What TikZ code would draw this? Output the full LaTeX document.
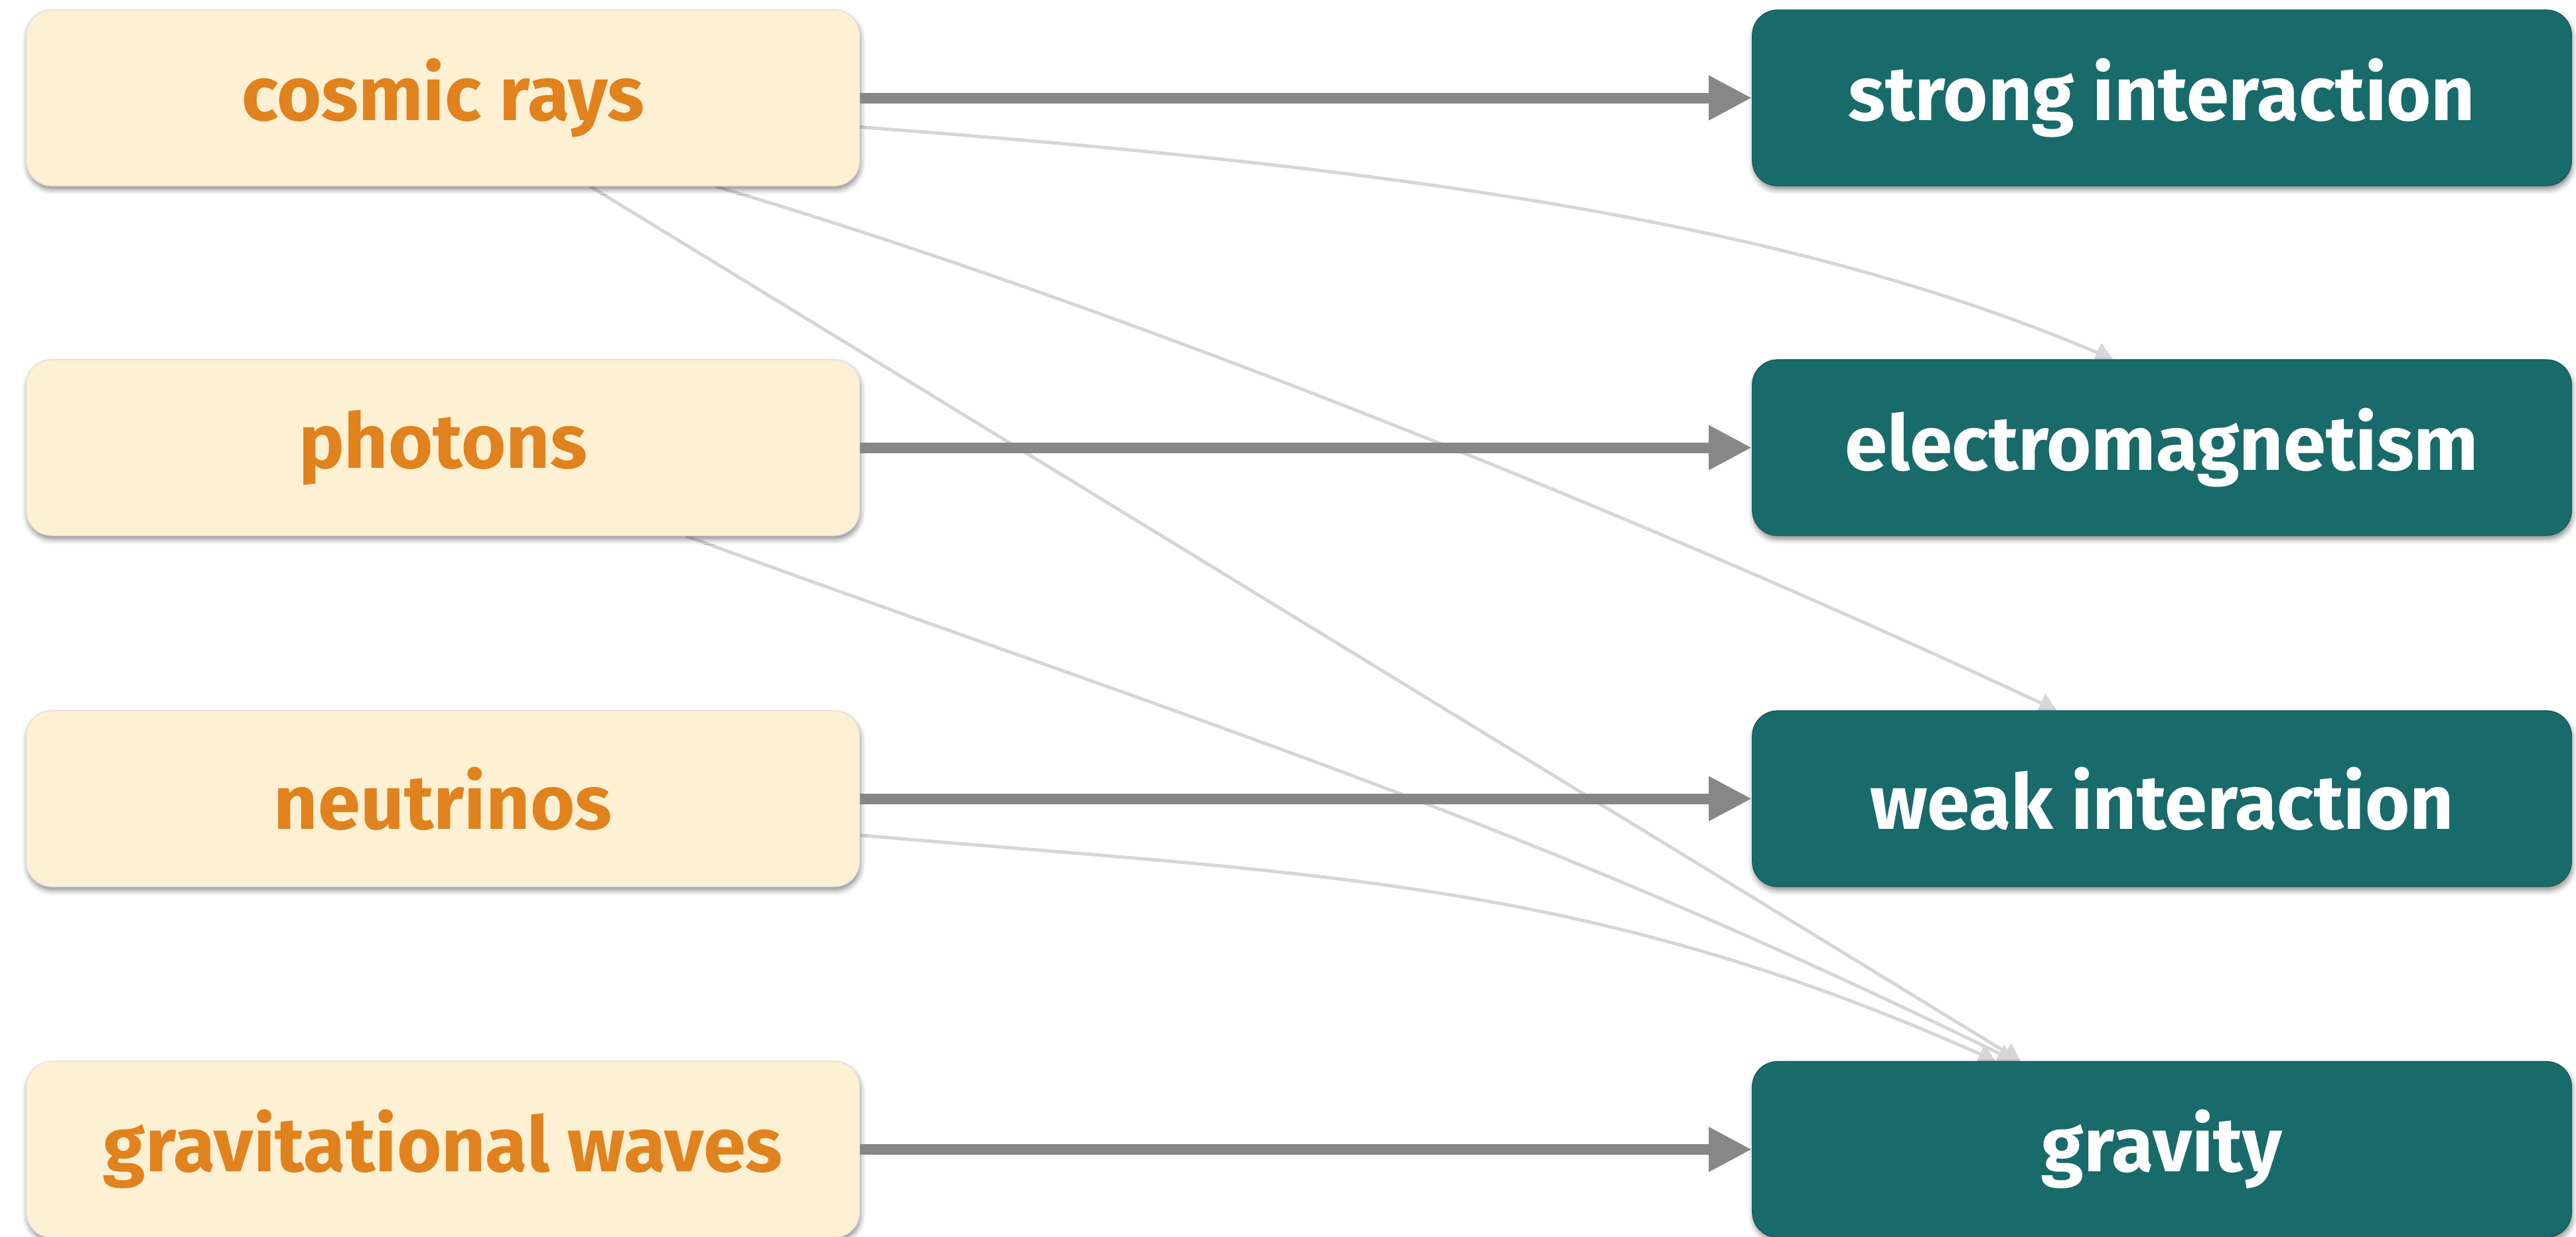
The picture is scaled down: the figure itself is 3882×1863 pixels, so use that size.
\documentclass[tikz,border=0pt]{standalone}
\usepackage{fontspec}
\setmainfont{Fira Sans}
\usetikzlibrary{arrows.meta,shadows.blur,backgrounds}
\definecolor{creamfill}{HTML}{FEF0D3}
\definecolor{orangetxt}{HTML}{E0821E}
\definecolor{tealfill}{HTML}{196A6A}
\definecolor{thickgray}{HTML}{878787}
\definecolor{thingray}{HTML}{D6D6D9}
\begin{document}
\begin{tikzpicture}[x=0.01cm,y=-0.01cm,
  boxbase/.style={rounded corners=0.38cm, minimum height=2.65cm, inner sep=0pt,
    font=\fontsize{32.8}{40}\selectfont\bfseries,
    blur shadow={shadow xshift=0.4pt, shadow yshift=-1.6pt, shadow blur radius=2.2pt, shadow opacity=45}},
  srcbox/.style={boxbase, fill=creamfill, draw=black!12, line width=0.4pt, minimum width=12.55cm, text=orangetxt},
  tgtbox/.style={boxbase, fill=tealfill, draw=tealfill!80!black, line width=0.3pt, minimum width=12.34cm, text=white},
  mainarrow/.style={draw=thickgray, line width=0.16cm, -{Triangle[length=0.65cm,width=0.63cm]}},
  thinarrow/.style={draw=thingray, line width=0.05cm, -{Triangle[length=0.26cm,width=0.3cm]}}
]
\useasboundingbox (0,0) rectangle (3882,1863);

\node[srcbox] (cr) at (667.5,147.5) {cosmic rays};
\node[srcbox] (ph) at (667.5,674.5) {photons};
\node[srcbox] (nu) at (667.5,1203.5) {neutrinos};
\node[srcbox] (gw) at (667.5,1732) {gravitational waves};

\node[tgtbox] (si) at (3258,147.5) {strong interaction};
\node[tgtbox] (em) at (3258,674.5) {electromagnetism};
\node[tgtbox] (wi) at (3258,1203.5) {weak interaction};
\node[tgtbox] (gr) at (3258,1732) {gravity};

\begin{pgfonlayer}{background}
\draw[thinarrow] (cr.-4.8) .. controls +(-4.3:8.02cm) and +(157:5.35cm) .. (em.119.4);
\draw[thinarrow] (cr.-18) .. controls +(-16.5:7cm) and +(155:6cm) .. (wi.140.8);
\draw[thinarrow] (cr.-31.3) -- (gr.148.4);
\draw[thinarrow] (ph.-20.1) to[out=-20, in=154] (gr.149.4);
\draw[thinarrow] (nu.-5) to[out=-5, in=156] (gr.152);
\end{pgfonlayer}

\draw[mainarrow] (cr.east) -- (si.west);
\draw[mainarrow] (ph.east) -- (em.west);
\draw[mainarrow] (nu.east) -- (wi.west);
\draw[mainarrow] (gw.east) -- (gr.west);
\end{tikzpicture}
\end{document}
